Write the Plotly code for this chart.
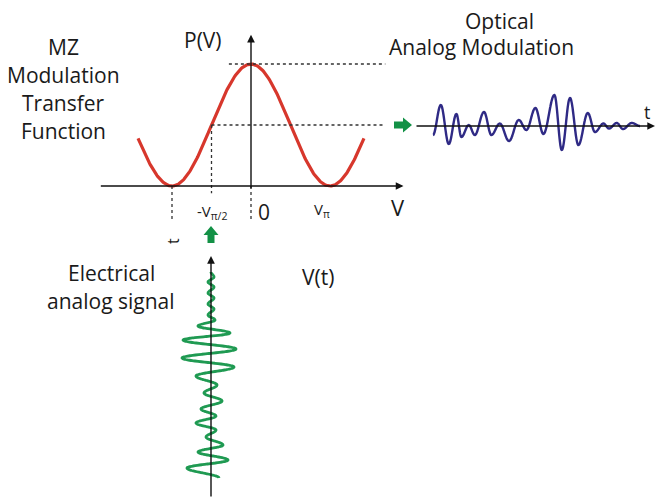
import numpy as np
import plotly.graph_objects as go

W, H = 667, 503
OFF = 8  # page body margin offset (px)

# ---------------- data ----------------
# MZ transfer function: normalized bias voltage (units of V_pi)
mz_v = np.linspace(-1.43, 1.43, 300)
mz_p = (1 + np.cos(np.pi * mz_v)) / 2  # P(V) transfer function

# Optical analog modulation (blue): extrema times (ns) and amplitudes (a.u.)
opt_t = [0, 0.39, 0.79, 1.17, 1.42, 1.79, 2.09, 2.55, 2.92, 3.34, 3.80, 4.29, 4.67,
         5.12, 5.52, 6.07, 6.44, 6.85, 7.27, 7.74, 8.10, 8.52, 8.80, 9.19, 9.50, 9.94, 10.35]
opt_a = [-0.9, 2.1, -1.8, 1.2, -1.1, 0.1, -0.9, 1.4, -0.9, 0.25, -1.5, 0.6, -0.4,
         1.8, -0.8, 3.1, -2.4, 2.8, -1.9, 1.3, -0.6, 0.25, -0.25, 0.3, -0.3, 0.3, 0]

# Electrical analog signal (green): extrema times (ns, upward) and amplitudes (a.u.)
el_t = [10.3, 10.05, 9.8, 9.55, 9.25, 9.0, 8.7, 8.45, 8.15, 7.9, 7.6, 7.25, 6.9, 6.45, 6.0,
        5.55, 5.1, 4.65, 4.25, 3.85, 3.45, 3.1, 2.75, 2.4, 2.05, 1.65, 1.3, 0.9, 0.5, 0.0]
el_a = [0, 0.3, -0.3, 0.3, -0.3, 0.3, -0.3, 0.3, -0.3, 0.4, -1.3, 1.9, -2.8, 2.5, -2.9,
        2.3, -1.5, 0.6, -0.7, 1.1, -1.0, 0.5, -1.5, 0.5, -0.5, 1.2, -1.3, 1.7, -2.4, 0.8]


def smooth_extrema(tk, ak, n=24):
    """Join successive extrema with half-cosine segments."""
    ts, as_ = [], []
    for i in range(len(tk) - 1):
        s = np.linspace(0, 1, n, endpoint=False)
        ts.extend(tk[i] + (tk[i + 1] - tk[i]) * s)
        as_.extend(ak[i] + (ak[i + 1] - ak[i]) * (1 - np.cos(np.pi * s)) / 2)
    ts.append(tk[-1]); as_.append(ak[-1])
    return np.array(ts), np.array(as_)


# ---------------- layout geometry (pixels) ----------------
def xr(origin, scale):
    return [(OFF - origin) / scale, (W + OFF - origin) / scale]


def yr(origin, scale):
    return [(origin - H - OFF) / scale, (origin - OFF) / scale]


RED = "#d7372c"
BLUE = "#2f2a85"
GREEN = "#1f9a52"
ARROWGREEN = "#139146"
TXT = "#1a1a1a"
FONT = "Open Sans"

fig = go.Figure()

# MZ axes: x2/y2  (origin px (251,186), 79 px per V_pi, 122 px per unit P)
fig.add_trace(go.Scatter(x=mz_v, y=mz_p, xaxis="x2", yaxis="y2", mode="lines",
                         line=dict(color=RED, width=3.2), hoverinfo="skip"))
dot = dict(color="#333333", width=1.3, dash="dot")
for xs, ys in [([-0.28, 1.7], [1, 1]), ([-0.5, 1.7], [0.5, 0.5]),
               ([-0.5, -0.5], [0.5, -0.06]), ([-1, -1], [0, -0.28]), ([0, 0], [0, -0.28])]:
    fig.add_trace(go.Scatter(x=xs, y=ys, xaxis="x2", yaxis="y2", mode="lines",
                             line=dot, hoverinfo="skip"))

# Optical signal: x3/y3 (origin px (433,126), 20 px per ns, 10 px per a.u.)
ot, oa = smooth_extrema(opt_t, opt_a)
fig.add_trace(go.Scatter(x=ot, y=oa, xaxis="x3", yaxis="y3", mode="lines",
                         line=dict(color=BLUE, width=2.4, shape="spline"), hoverinfo="skip"))

# Electrical signal: x4/y4 (origin px (211,478), amplitude horizontal 10 px/a.u., time up 20 px/ns)
et, ea = smooth_extrema(el_t, el_a)
fig.add_trace(go.Scatter(x=ea, y=et, xaxis="x4", yaxis="y4", mode="lines",
                         line=dict(color=GREEN, width=2.8, shape="spline"), hoverinfo="skip"))

hidden = dict(visible=False, showgrid=False, zeroline=False, fixedrange=True)
fig.update_layout(
    width=W, height=H, autosize=False,
    margin=dict(l=0, r=0, t=0, b=0),
    paper_bgcolor="white", plot_bgcolor="white",
    showlegend=False,
    xaxis=dict(range=[OFF, W + OFF], **hidden),
    yaxis=dict(range=[H + OFF, OFF], **hidden),
    xaxis2=dict(range=xr(251, 79), overlaying="x", **hidden),
    yaxis2=dict(range=yr(186, 122), overlaying="y", **hidden),
    xaxis3=dict(range=xr(433, 20), overlaying="x", **hidden),
    yaxis3=dict(range=yr(126, 10), overlaying="y", **hidden),
    xaxis4=dict(range=xr(211, 10), overlaying="x", **hidden),
    yaxis4=dict(range=yr(478, 20), overlaying="y", **hidden),
)

ann = []


def axis_arrow(x0, y0, x1, y1, xref, yref):
    ann.append(dict(x=x1, y=y1, ax=x0, ay=y0, xref=xref, yref=yref, axref=xref, ayref=yref,
                    text="", showarrow=True, arrowhead=2, arrowsize=1.1, arrowwidth=1.4,
                    arrowcolor="#111111"))


# axes with arrowheads
axis_arrow(-1.92, 0, 1.93, 0, "x2", "y2")
axis_arrow(0, -0.03, 0, 1.24, "x2", "y2")
axis_arrow(-0.9, 0, 11.1, 0, "x3", "y3")
axis_arrow(0, -1.0, 0, 11.1, "x4", "y4")


def label(text, x, y, size=21, angle=0):
    ann.append(dict(text=text, x=x, y=y, xref="x", yref="y", showarrow=False,
                    font=dict(family=FONT, size=size, color=TXT),
                    xanchor="center", yanchor="middle", textangle=angle))


for txt, yy in [("MZ", 47), ("Modulation", 75), ("Transfer", 103), ("Function", 131)]:
    label(txt, 63, yy)
label("Optical", 499, 21)
label("Analog Modulation", 481, 47)
label("P(V)", 203, 40)
label("Electrical", 111, 273)
label("analog signal", 111, 301)
label("V(t)", 318, 277)
label("V", 398, 207, size=22)
label("0", 264, 212, size=21)
label("-V<sub>π/2</sub>", 212, 212, size=15)
label("V<sub>π</sub>", 322, 210, size=15)
label("t", 647, 112, size=18)
label("t", 173, 241, size=16, angle=-90)

fig.update_layout(annotations=ann)

# fat green arrows (glyphs)
up = "M 211 226 L 218.5 235 L 214.5 235 L 214.5 243 L 207.5 243 L 207.5 235 L 203.5 235 Z"
right = "M 412 125 L 403 117.5 L 403 121.5 L 394 121.5 L 394 128.5 L 403 128.5 L 403 132.5 Z"
fig.update_layout(shapes=[
    dict(type="path", path=up, xref="x", yref="y", fillcolor=ARROWGREEN, line=dict(width=0)),
    dict(type="path", path=right, xref="x", yref="y", fillcolor=ARROWGREEN, line=dict(width=0)),
])

fig.write_html("out.html")
